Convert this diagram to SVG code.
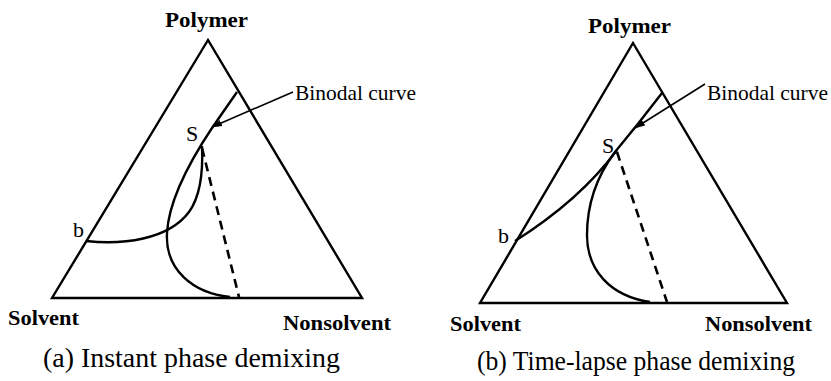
<svg xmlns="http://www.w3.org/2000/svg" width="831" height="381" viewBox="0 0 831 381">
<style>
.ln{fill:none;stroke:#000;stroke-width:2.4;stroke-linejoin:miter}
.cv{fill:none;stroke:#000;stroke-width:2.4}
.ds{fill:none;stroke:#000;stroke-width:2.6;stroke-dasharray:9 6}
.ar{fill:none;stroke:#000;stroke-width:1.6}
.b{font-family:"Liberation Serif","Times New Roman",serif;font-weight:bold;font-size:22px;fill:#000}
.r{font-family:"Liberation Serif","Times New Roman",serif;font-size:22px;fill:#000}
.cap{font-family:"Liberation Serif","Times New Roman",serif;font-size:28px;fill:#000}
</style>
<defs>
<marker id="ah" markerWidth="11" markerHeight="8" refX="10" refY="4" orient="auto" markerUnits="userSpaceOnUse">
<path d="M0,0.8 L11,4 L0,7.2 Z" fill="#000"/>
</marker>
</defs>
<rect width="831" height="381" fill="#fff"/>
<g id="panel-a">
<g id="tri-a"><path class="ln" d="M208,40 L52,298 L362,298 Z"/></g>
<g id="binodal-a"><path class="cv" d="M237,92 L212,128 C196,152 169,196 167,233 C165,270 193,293 230,297"/></g>
<g id="bcurve-a"><path class="cv" d="M86,241 C122,245 168,240 189,212 C202,194 203,168 202,146"/></g>
<g id="dash-a"><path class="ds" d="M202,148 L239,297"/></g>
<g id="labels-a">
<text class="b" x="165" y="27" textLength="83" lengthAdjust="spacingAndGlyphs">Polymer</text>
<text class="b" x="8" y="325" textLength="71" lengthAdjust="spacingAndGlyphs">Solvent</text>
<text class="b" x="283" y="330" textLength="108" lengthAdjust="spacingAndGlyphs">Nonsolvent</text>
<text class="r" x="186" y="141">S</text>
<text class="r" x="73" y="237">b</text>
<text class="r" x="295" y="100" textLength="121" lengthAdjust="spacingAndGlyphs">Binodal curve</text>
<text class="cap" x="43" y="367" textLength="297" lengthAdjust="spacingAndGlyphs">(a) Instant phase demixing</text>
</g>
</g>
<g id="panel-b">
<g id="tri-b"><path class="ln" d="M633,43 L480,303 L787,303 Z"/></g>
<g id="binodal-b"><path class="cv" d="M662,93 C646,114 630,134 615,152 C600,172 587,200 587,235 C587,270 610,296 650,302"/></g>
<g id="bcurve-b"><path class="cv" d="M515,241 Q580,200 617,150"/></g>
<g id="dash-b"><path class="ds" d="M617,152 L667,302"/></g>
<g id="labels-b">
<text class="b" x="588" y="33" textLength="83" lengthAdjust="spacingAndGlyphs">Polymer</text>
<text class="b" x="450" y="331" textLength="71" lengthAdjust="spacingAndGlyphs">Solvent</text>
<text class="b" x="705" y="331" textLength="107" lengthAdjust="spacingAndGlyphs">Nonsolvent</text>
<text class="r" x="602" y="153">S</text>
<text class="r" x="498" y="243">b</text>
<text class="r" x="707" y="100" textLength="121" lengthAdjust="spacingAndGlyphs">Binodal curve</text>
<text class="cap" x="477" y="370" textLength="318" lengthAdjust="spacingAndGlyphs">(b) Time-lapse phase demixing</text>
</g>
</g>
<g id="connectors">
<path class="ar" d="M293,92 L212,127" marker-end="url(#ah)"/>
<path class="ar" d="M705,84 L635,128" marker-end="url(#ah)"/>
</g>
</svg>
